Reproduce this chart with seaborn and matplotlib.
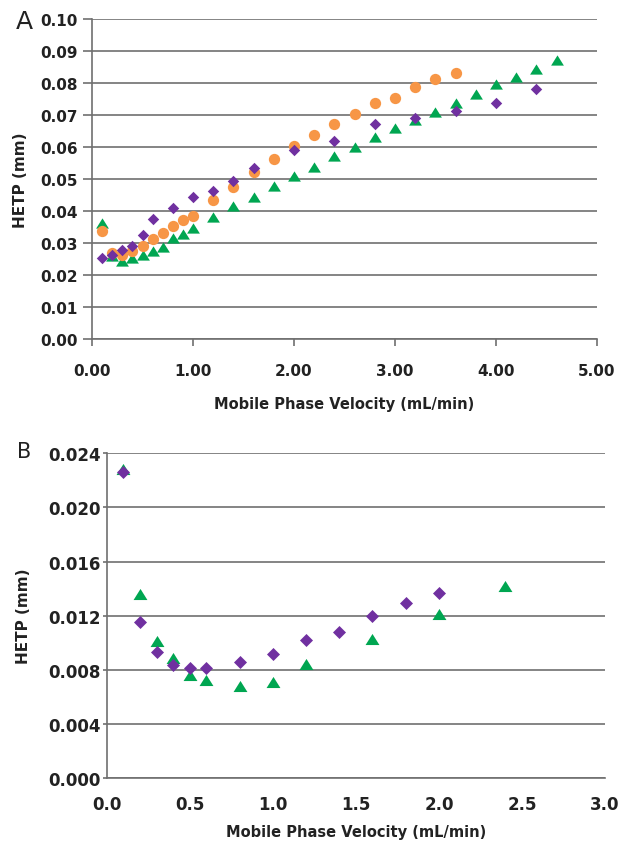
import numpy as np
import pandas as pd
import matplotlib
matplotlib.use("Agg")
import matplotlib.pyplot as plt
import seaborn as sns
from matplotlib.ticker import FormatStrFormatter

# ---------------- Panel A data ----------------
a_purple_x = [0.1, 0.2, 0.3, 0.4, 0.5, 0.6, 0.8, 1.0, 1.2, 1.4, 1.6, 2.0, 2.4, 2.8, 3.2, 3.6, 4.0, 4.4]
a_purple_y = [0.0252, 0.0262, 0.0278, 0.0292, 0.0325, 0.0375, 0.0408, 0.0444, 0.0463, 0.0495,
              0.0533, 0.0591, 0.0620, 0.0672, 0.0690, 0.0711, 0.0736, 0.0781]

a_orange_x = [0.1, 0.2, 0.3, 0.4, 0.5, 0.6, 0.7, 0.8, 0.9, 1.0, 1.2, 1.4, 1.6, 1.8, 2.0, 2.2,
              2.4, 2.6, 2.8, 3.0, 3.2, 3.4, 3.6]
a_orange_y = [0.0339, 0.0268, 0.0262, 0.0276, 0.0292, 0.0312, 0.0330, 0.0352, 0.0373, 0.0383,
              0.0434, 0.0476, 0.0523, 0.0564, 0.0604, 0.0636, 0.0672, 0.0703, 0.0739, 0.0754,
              0.0789, 0.0813, 0.0831]

a_green_x = [0.1, 0.2, 0.3, 0.4, 0.5, 0.6, 0.7, 0.8, 0.9, 1.0, 1.2, 1.4, 1.6, 1.8, 2.0, 2.2,
             2.4, 2.6, 2.8, 3.0, 3.2, 3.4, 3.6, 3.8, 4.0, 4.2, 4.4, 4.6]
a_green_y = [0.0363, 0.0258, 0.0245, 0.0252, 0.0262, 0.0276, 0.0286, 0.0315, 0.0328, 0.0346,
             0.0380, 0.0417, 0.0445, 0.0479, 0.0510, 0.0538, 0.0573, 0.0599, 0.0630, 0.0658,
             0.0685, 0.0708, 0.0737, 0.0765, 0.0797, 0.0820, 0.0844, 0.0872]

a_xticks = [0.0, 1.0, 2.0, 3.0, 4.0, 5.0]
a_yticks = [0.00, 0.01, 0.02, 0.03, 0.04, 0.05, 0.06, 0.07, 0.08, 0.09, 0.10]

# ---------------- Panel B data ----------------
b_purple_x = [0.1, 0.2, 0.3, 0.4, 0.5, 0.6, 0.8, 1.0, 1.2, 1.4, 1.6, 1.8, 2.0]
b_purple_y = [0.0226, 0.01155, 0.00929, 0.00835, 0.00811, 0.00811, 0.0086, 0.00914, 0.0102,
              0.01082, 0.0120, 0.01294, 0.01365]

b_green_x = [0.1, 0.2, 0.3, 0.4, 0.5, 0.6, 0.8, 1.0, 1.2, 1.6, 2.0, 2.4]
b_green_y = [0.02284, 0.0136, 0.01015, 0.00885, 0.00761, 0.00724, 0.00682, 0.00712, 0.00843,
             0.01027, 0.01212, 0.01417]

b_xticks = [0.0, 0.5, 1.0, 1.5, 2.0, 2.5, 3.0]
b_yticks = [0.000, 0.004, 0.008, 0.012, 0.016, 0.020, 0.024]

x_label = "Mobile Phase Velocity (mL/min)"
y_label = "HETP (mm)"

PURPLE = "#7030A0"
ORANGE = "#F79646"
GREEN = "#00A651"
GRID = "#707070"
TXT = "#222222"

sns.set_theme(style="white")
plt.rcParams["font.family"] = ["DejaVu Sans"]

tri = [(0, 0.8), (-1, -0.8), (1, -0.8)]

fig = plt.figure(figsize=(6.19, 8.45), dpi=100)

def style_axes(ax, ticksize):
    ax.set_facecolor("white")
    for s in ["top", "right"]:
        ax.spines[s].set_visible(False)
    for s in ["left", "bottom"]:
        ax.spines[s].set_color(GRID)
        ax.spines[s].set_linewidth(1.2)
    ax.yaxis.grid(True, color=GRID, linewidth=1.2)
    ax.xaxis.grid(False)
    ax.set_axisbelow(True)
    for lab in ax.get_xticklabels() + ax.get_yticklabels():
        lab.set_fontweight("bold")
        lab.set_fontsize(ticksize)
        lab.set_color(TXT)

# ---------------- Panel A ----------------
axA = fig.add_axes([92 / 619, 1 - 340 / 845, 505 / 619, 320 / 845])
dfA_p = pd.DataFrame({"x": a_purple_x, "y": a_purple_y})
dfA_o = pd.DataFrame({"x": a_orange_x, "y": a_orange_y})
dfA_g = pd.DataFrame({"x": a_green_x, "y": a_green_y})
sns.scatterplot(data=dfA_g, x="x", y="y", ax=axA, marker=tri, color=GREEN, s=85, linewidth=0, zorder=3)
sns.scatterplot(data=dfA_o, x="x", y="y", ax=axA, marker="o", color=ORANGE, s=66, linewidth=0, zorder=4)
sns.scatterplot(data=dfA_p, x="x", y="y", ax=axA, marker="D", color=PURPLE, s=34, linewidth=0, zorder=5)
axA.set_xlim(0, 5)
axA.set_ylim(0, 0.1)
axA.set_xticks(a_xticks)
axA.set_yticks(a_yticks)
axA.xaxis.set_major_formatter(FormatStrFormatter("%.2f"))
axA.yaxis.set_major_formatter(FormatStrFormatter("%.2f"))
axA.tick_params(axis="x", direction="out", length=5, width=1.2, color=GRID, pad=12, bottom=True)
axA.tick_params(axis="y", direction="out", length=6.5, width=1.2, color=GRID, pad=3.5, left=True)
style_axes(axA, 11)
axA.set_xlabel(x_label, fontsize=10.5, fontweight="bold", color=TXT, labelpad=13)
axA.set_ylabel(y_label, fontsize=11, fontweight="bold", color=TXT, labelpad=9)
fig.text(24 / 619, 1 - 22 / 845, "A", fontsize=18, color=TXT, ha="center", va="center")

# ---------------- Panel B ----------------
axB = fig.add_axes([106.7 / 619, 1 - 779 / 845, 498.3 / 619, 324.7 / 845])
dfB_p = pd.DataFrame({"x": b_purple_x, "y": b_purple_y})
dfB_g = pd.DataFrame({"x": b_green_x, "y": b_green_y})
sns.scatterplot(data=dfB_g, x="x", y="y", ax=axB, marker=tri, color=GREEN, s=100, linewidth=0, zorder=3)
sns.scatterplot(data=dfB_p, x="x", y="y", ax=axB, marker="D", color=PURPLE, s=44, linewidth=0, zorder=5)
axB.set_xlim(0, 3)
axB.set_ylim(0, 0.024)
axB.set_xticks(b_xticks)
axB.set_yticks(b_yticks)
axB.xaxis.set_major_formatter(FormatStrFormatter("%.1f"))
axB.yaxis.set_major_formatter(FormatStrFormatter("%.3f"))
axB.tick_params(axis="x", length=0, pad=12)
axB.tick_params(axis="y", direction="out", length=3, width=1.2, color=GRID, pad=1.5, left=True)
style_axes(axB, 12)
axB.set_xlabel(x_label, fontsize=10.5, fontweight="bold", color=TXT, labelpad=8)
axB.set_ylabel(y_label, fontsize=11, fontweight="bold", color=TXT, labelpad=12)
fig.text(24 / 619, 1 - 452 / 845, "B", fontsize=15, color=TXT, ha="center", va="center")

fig.savefig("out.png", dpi=100, facecolor="white")
